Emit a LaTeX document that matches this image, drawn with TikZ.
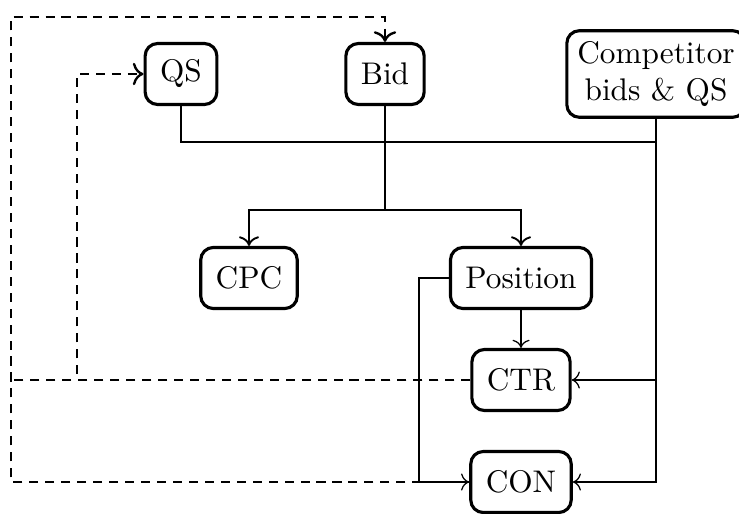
\documentclass[tikz,border=0pt]{standalone}
\usetikzlibrary{calc,arrows.meta}
\begin{document}
\begin{tikzpicture}[x=0.3195pt,y=-0.3195pt,
  >={To[scale=1.05]},
  box/.style={draw,rounded corners=4pt,line width=1pt,minimum height=19.5pt,inner xsep=4.8pt},
  bigbox/.style={draw,rounded corners=4pt,line width=1pt,align=center},
  main/.style={line width=0.6pt},
  fine/.style={line width=0.4pt},
  fb/.style={line width=0.75pt,dash pattern=on 2.9pt off 2.2pt}]
\useasboundingbox (0,0) rectangle (739,514);
\node[box] (qs) at (181,74) {QS};
\node[box] (bid) at (385,74) {Bid};
\node[bigbox] (comp) at (656,74) {Competitor\\bids \& QS};
\node[box] (cpc) at (249,278) {CPC};
\node[box] (pos) at (521,278) {Position};
\node[box] (ctr) at (521,380) {CTR};
\node[box] (con) at (521,482) {CON};
\coordinate (yjoin) at (0,142);
\coordinate (ysplit) at (0,210);
\coordinate (ytop) at (0,17);
\coordinate (xout) at (11,0);
\coordinate (xin) at (77,0);
\coordinate (xp) at (419,0);
% solid connectors
\draw[main] (qs.south) |- (comp.south |- yjoin) -- (comp.south);
\draw[main] (bid.south) -- (bid.south |- ysplit);
\draw[main,->] (bid.south |- ysplit) -| (cpc.north);
\draw[main,->] (bid.south |- ysplit) -| (pos.north);
\draw[fine,->] (pos.south) -- (ctr.north);
\draw[fine,->] (comp.south) |- (ctr.east);
\draw[fine,->] (comp.south) |- (con.east);
\draw[fine,->] (pos.west) -- (pos.west -| xp) |- (con.west);
% dashed connectors
\draw[fb,->] (ctr.west) -| (xin |- qs.west) -- (qs.west);
\draw[fb] (ctr.west) -- (ctr.west -| xout);
\draw[fb,->] (con.west) -| (xout |- ytop) -| (bid.north);
\end{tikzpicture}
\end{document}
